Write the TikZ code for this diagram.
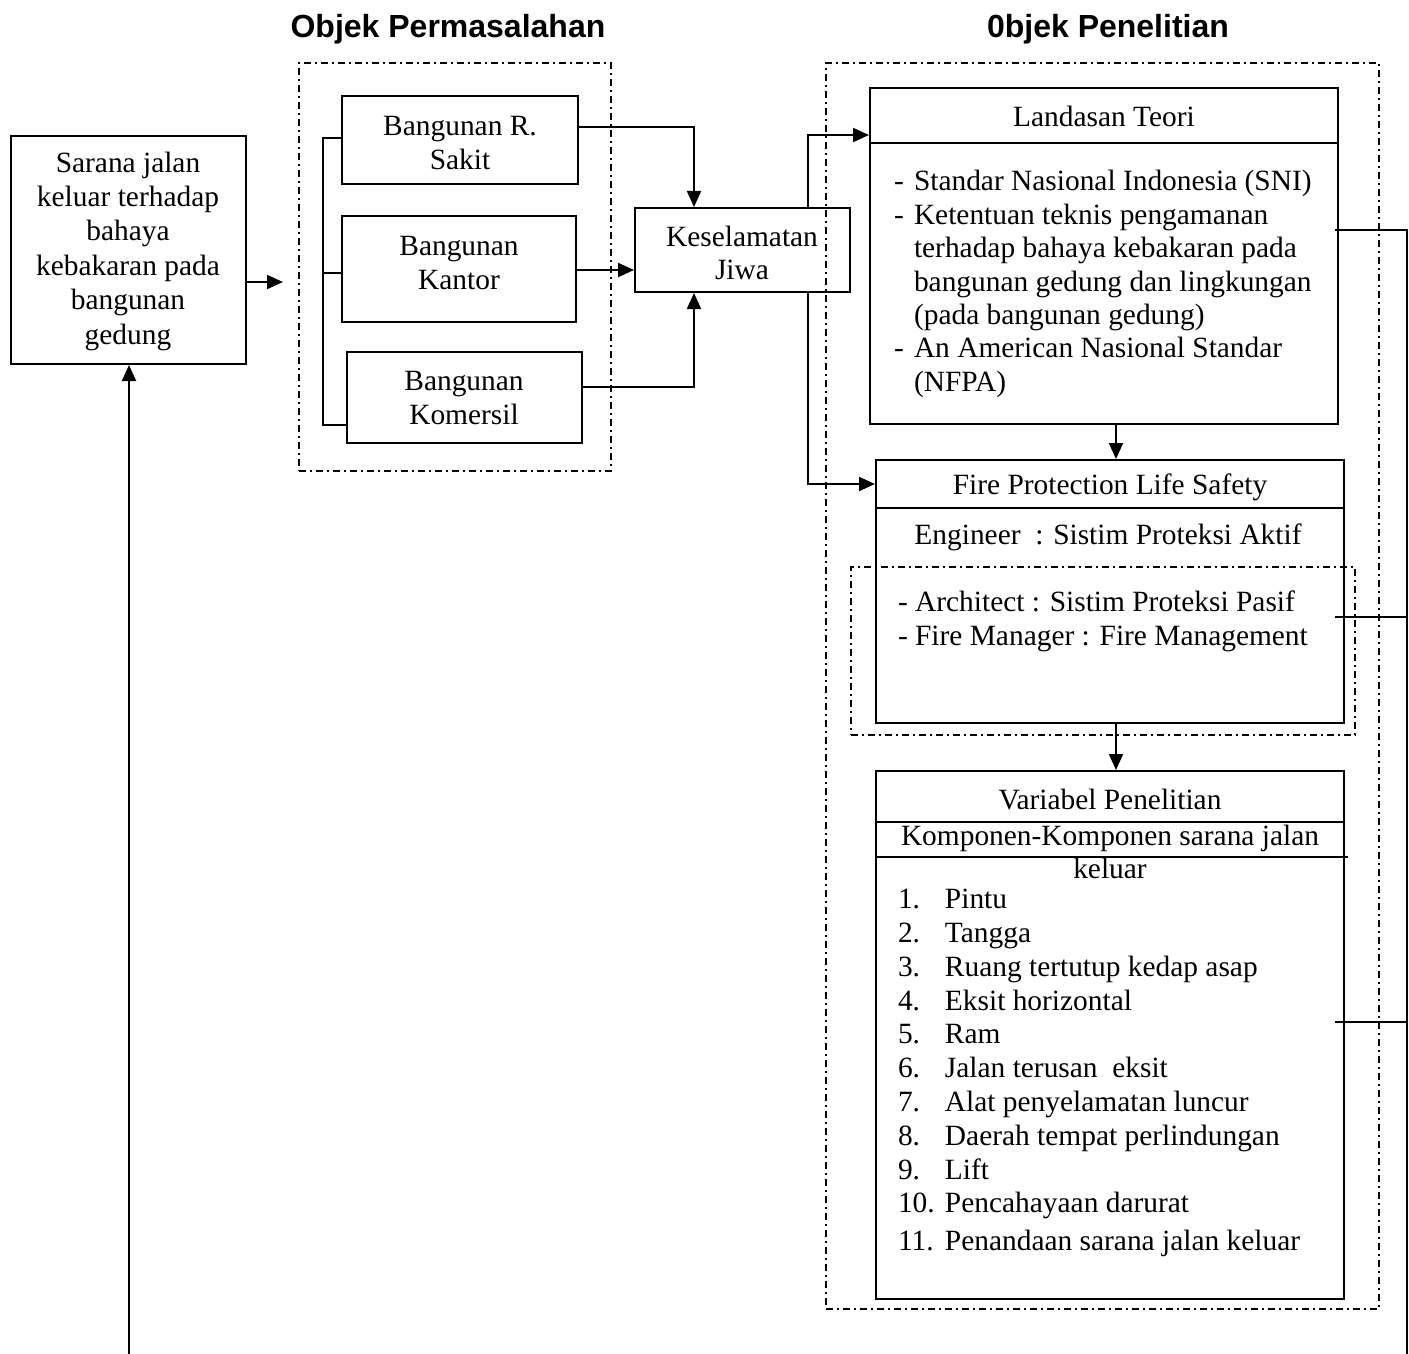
\documentclass[tikz,border=0pt]{standalone}
\usepackage{fontspec}
\setmainfont{Liberation Serif}
\newfontfamily\titlefont{Liberation Sans}
\usetikzlibrary{arrows.meta,fit,positioning}
\begin{document}
\begin{tikzpicture}[x=0.5pt,y=-0.5pt,
  line width=1pt,
  box/.style={draw,line width=1pt,inner sep=0pt},
  dd/.style={draw,line width=1pt,inner sep=0pt,dash pattern=on 3.5pt off 2pt on 1pt off 2pt},
  txt/.style={inner sep=0pt,font=\fontsize{14.7}{16.9}\selectfont},
  ttl/.style={inner sep=0pt,font=\titlefont\bfseries\fontsize{16}{19}\selectfont},
  arr/.style={-{Triangle[length=8pt,width=7pt]},line width=1pt},
  ln/.style={line width=1pt}]
\useasboundingbox (0,0) rectangle (1409,1354);
% titles
\node[ttl,anchor=base] (t1) at (448,38) {Objek Permasalahan};
\node[ttl,anchor=base] (t2) at (1108,38) {0bjek Penelitian};
% dash-dot frames
\node[dd,fit={(299,63)(611,471)}] (f1) {};
\node[dd,fit={(826,63)(1379,1309)}] (f2) {};
% left box
\node[box,fit={(11,136)(246,364)}] (sar) {};
\node[txt,align=center,font=\fontsize{14.7}{17.2}\selectfont] at (128,251) {Sarana jalan\\keluar terhadap\\bahaya\\kebakaran pada\\bangunan\\gedung};
% building boxes
\node[box,fit={(342,96)(578,184)}] (rs) {};
\node[txt,align=center] at (460,143) {Bangunan R.\\Sakit};
\node[box,fit={(342,216)(576,322)}] (kan) {};
\node[txt,align=center] at (459,263) {Bangunan\\Kantor};
\node[box,fit={(347,352)(582,443)}] (kom) {};
\node[txt,align=center] at (464,398) {Bangunan\\Komersil};
% keselamatan
\node[box,fit={(635,208)(850,292)}] (kes) {};
\node[txt,align=center] at (742,253) {Keselamatan\\Jiwa};
% landasan teori
\node[box,fit={(870,88)(1338,424)}] (lan) {};
\draw[ln] (870,143) -- (1338,143);
\node[txt] at (1104,116) {Landasan Teori};
\node[txt,align=left,anchor=west,font=\fontsize{14.7}{16.7}\selectfont] at (893,284) {\makebox[10pt][l]{-}Standar Nasional Indonesia (SNI)\\
\makebox[10pt][l]{-}Ketentuan teknis pengamanan\\
\hspace*{10pt}terhadap bahaya kebakaran pada\\
\hspace*{10pt}bangunan gedung dan lingkungan\\
\hspace*{10pt}(pada bangunan gedung)\\
\makebox[10pt][l]{-}An American Nasional Standar\\
\hspace*{10pt}(NFPA)};
% fire protection
\node[box,fit={(876,460)(1344,723)}] (fp) {};
\draw[ln] (876,508) -- (1344,508);
\node[txt] at (1110,487) {Fire Protection Life Safety};
\node[txt] at (1108,537) {Engineer\ \ : Sistim Proteksi Aktif};
\node[dd,fit={(851,567)(1355,735)}] (f3) {};
\node[txt,align=left,anchor=west] at (897,621) {- Architect : Sistim Proteksi Pasif\\- Fire Manager : Fire Management};
% variabel
\node[box,fit={(876,771)(1344,1299)}] (var) {};
\draw[ln] (876,822) -- (1344,822);
\draw[ln] (876,857) -- (1348,857);
\node[txt] at (1110,800) {Variabel Penelitian};
\node[txt,align=center] at (1110,852) {Komponen-Komponen sarana jalan\\keluar};
\node[txt,align=left,anchor=west] at (897,1073) {\makebox[23.5pt][l]{1.}Pintu\\
\makebox[23.5pt][l]{2.}Tangga\\
\makebox[23.5pt][l]{3.}Ruang tertutup kedap asap\\
\makebox[23.5pt][l]{4.}Eksit horizontal\\
\makebox[23.5pt][l]{5.}Ram\\
\makebox[23.5pt][l]{6.}Jalan terusan\ \ eksit\\
\makebox[23.5pt][l]{7.}Alat penyelamatan luncur\\
\makebox[23.5pt][l]{8.}Daerah tempat perlindungan\\
\makebox[23.5pt][l]{9.}Lift\\
\makebox[23.5pt][l]{10.}Pencahayaan darurat\\[2pt]
\makebox[23.5pt][l]{11.}Penandaan sarana jalan keluar};
% coordinates for connectors
\coordinate (sarR) at (sar.east |- 0,282);
\coordinate (f1L) at (283,282);
\draw[arr] (sarR) -- (f1L);
% bracket
\coordinate (bT) at (323,138);
\coordinate (bM) at (323,273);
\coordinate (bB) at (323,425);
\draw[ln] (rs.west |- bT) -- (bT) -- (bB) -- (kom.west |- bB);
\draw[ln] (bM) -- (kan.west |- bM);
% to keselamatan
\coordinate (c1) at (694,127);
\draw[arr] (rs.east |- c1) -- (c1) -- (kes.north -| c1);
\coordinate (c2) at (635,270);
\draw[arr] (kan.east |- c2) -- (kes.west |- c2);
\coordinate (c3) at (694,387);
\draw[arr] (kom.east |- c3) -- (c3) -- (kes.south -| c3);
% from keselamatan
\coordinate (k1) at (808,135);
\draw[arr] (kes.north -| k1) -- (k1) -- (lan.west |- k1);
\coordinate (k2) at (808,484);
\draw[arr] (kes.south -| k2) -- (k2) -- (fp.west |- k2);
% vertical chain
\coordinate (vx) at (1116,0);
\draw[arr] (lan.south -| vx) -- (fp.north -| vx);
\draw[arr] (fp.south -| vx) -- (var.north -| vx);
% right feedback line
\coordinate (r1) at (1407,230);
\coordinate (r2) at (1407,617);
\coordinate (r3) at (1407,1022);
\coordinate (rB) at (1407,1354);
\draw[ln] (1335,230) -- (r1) -- (rB);
\draw[ln] (1335,617) -- (r2);
\draw[ln] (1335,1022) -- (r3);
% left feedback
\coordinate (lB) at (129,1354);
\draw[arr] (lB) -- (sar.south -| lB);
\end{tikzpicture}
\end{document}
